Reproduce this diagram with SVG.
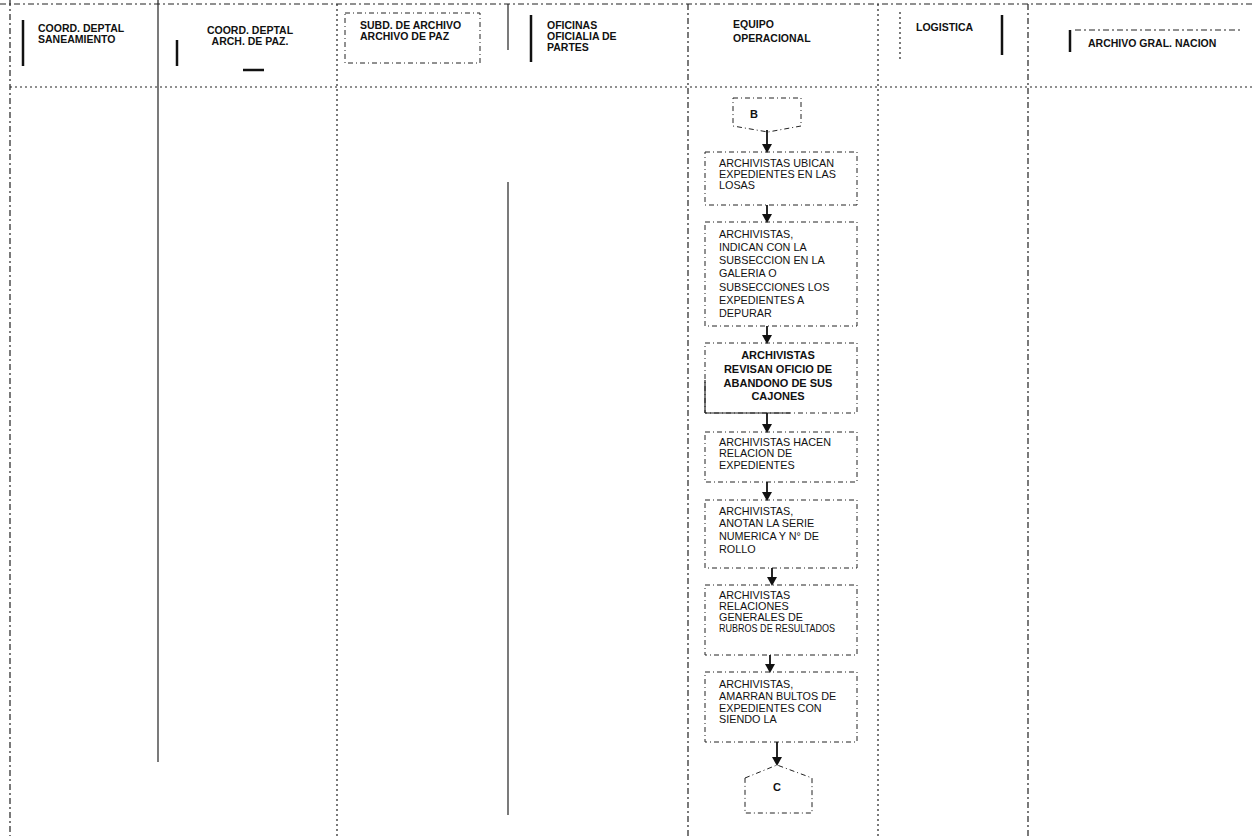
<svg xmlns="http://www.w3.org/2000/svg" width="1253" height="836" viewBox="0 0 1253 836">
<style>
text{font-family:"Liberation Sans",Arial,sans-serif;font-size:10.8px;fill:#111}
.h{font-size:10.5px;font-weight:bold}
.b{font-weight:bold;font-size:11px}
.lane{fill:none;stroke:#222;stroke-width:1.2}
.dot{stroke-dasharray:2 3}
.dash{stroke-dasharray:6 3 2 3}
.box{fill:none;stroke:#222;stroke-width:1;stroke-dasharray:5 3 1 3}
.bar{stroke:#111;stroke-width:2.5}
.arr{stroke:#111;stroke-width:1.8;fill:none;marker-end:url(#ah)}
</style>
<defs>
<marker id="ah" markerWidth="10" markerHeight="10" refX="7" refY="5" orient="auto" markerUnits="userSpaceOnUse">
<path d="M0,0 L9,5 L0,10 Z" fill="#111"/>
</marker>
</defs>
<rect width="1253" height="836" fill="#fff"/>
<g id="lanes">
<line class="lane dash" x1="0" y1="4" x2="1253" y2="4"/>
<line class="lane dash" x1="10" y1="0" x2="10" y2="836"/>
<line class="lane" x1="158" y1="0" x2="158" y2="762" stroke-width="2"/>
<line class="lane dot" x1="337" y1="4" x2="337" y2="836"/>
<line class="lane" x1="508" y1="182" x2="508" y2="815" stroke-width="2"/>
<line class="lane" x1="508" y1="4" x2="508" y2="50"/>
<line class="lane dash" x1="688" y1="4" x2="688" y2="836"/>
<line class="lane dot" x1="878" y1="4" x2="878" y2="836"/>
<line class="lane dash" x1="1028" y1="4" x2="1028" y2="836"/>
<line class="lane dot" x1="10" y1="87" x2="1253" y2="87"/>
</g>
<g id="h1">
<line class="bar" x1="23" y1="20" x2="23" y2="66"/>
<text class="h" x="38" y="32">COORD. DEPTAL</text>
<text class="h" x="38" y="43">SANEAMIENTO</text>
</g>
<g id="h2">
<line class="bar" x1="177" y1="40" x2="177" y2="66"/>
<line class="bar" x1="243" y1="70" x2="264" y2="70" stroke-width="2"/>
<text class="h" x="250" y="34" text-anchor="middle">COORD. DEPTAL</text>
<text class="h" x="250" y="45" text-anchor="middle">ARCH. DE PAZ.</text>
</g>
<g id="h3">
<rect class="box dot" x="345" y="13" width="135" height="50"/>
<text class="h" x="360" y="29">SUBD. DE ARCHIVO</text>
<text class="h" x="360" y="40">ARCHIVO DE PAZ</text>
</g>
<g id="h4">
<line class="bar" x1="531" y1="15" x2="531" y2="62"/>
<text class="h" x="547" y="29">OFICINAS</text>
<text class="h" x="547" y="40">OFICIALIA DE</text>
<text class="h" x="547" y="51">PARTES</text>
</g>
<g id="h5">
<text class="h" x="733" y="28">EQUIPO</text>
<text class="h" x="733" y="42">OPERACIONAL</text>
</g>
<g id="h6">
<line class="lane dot" x1="900" y1="12" x2="900" y2="62"/>
<line class="bar" x1="1002" y1="15" x2="1002" y2="55"/>
<text class="h" x="916" y="31">LOGISTICA</text>
</g>
<g id="h7">
<line class="lane dash" x1="1075" y1="30" x2="1240" y2="30"/>
<line class="bar" x1="1070" y1="30" x2="1070" y2="52"/>
<text class="h" x="1088" y="47">ARCHIVO GRAL. NACION</text>
</g>
<g id="B">
<path class="box" d="M733,98 H801 V126 L768,132 L733,126 Z"/>
<text class="b" x="750" y="118">B</text>
</g>
<g id="n1">
<rect class="box" x="705" y="152" width="152" height="53"/>
<text x="719" y="167">ARCHIVISTAS UBICAN</text>
<text x="719" y="178">EXPEDIENTES EN LAS</text>
<text x="719" y="189">LOSAS</text>
</g>
<g id="n2">
<rect class="box" x="705" y="222" width="152" height="104"/>
<text x="719" y="238">ARCHIVISTAS,</text>
<text x="719" y="251">INDICAN CON LA</text>
<text x="719" y="264">SUBSECCION EN LA</text>
<text x="719" y="277">GALERIA O</text>
<text x="719" y="291">SUBSECCIONES LOS</text>
<text x="719" y="304">EXPEDIENTES A</text>
<text x="719" y="317">DEPURAR</text>
</g>
<g id="n3">
<rect class="box" x="705" y="343" width="152" height="70"/>
<line class="lane" x1="705" y1="380" x2="705" y2="413"/>
<line class="lane" x1="705" y1="413" x2="790" y2="413"/>
<text class="b" x="778" y="359" text-anchor="middle">ARCHIVISTAS</text>
<text class="b" x="778" y="373" text-anchor="middle">REVISAN OFICIO DE</text>
<text class="b" x="778" y="387" text-anchor="middle">ABANDONO DE SUS</text>
<text class="b" x="778" y="400" text-anchor="middle">CAJONES</text>
</g>
<g id="n4">
<rect class="box" x="705" y="432" width="152" height="50"/>
<text x="719" y="446">ARCHIVISTAS HACEN</text>
<text x="719" y="457">RELACION DE</text>
<text x="719" y="469">EXPEDIENTES</text>
</g>
<g id="n5">
<rect class="box" x="705" y="500" width="152" height="68"/>
<text x="719" y="515">ARCHIVISTAS,</text>
<text x="719" y="527">ANOTAN LA SERIE</text>
<text x="719" y="540">NUMERICA Y N° DE</text>
<text x="719" y="553">ROLLO</text>
</g>
<g id="n6">
<rect class="box" x="705" y="585" width="152" height="70"/>
<text x="719" y="599">ARCHIVISTAS</text>
<text x="719" y="610">RELACIONES</text>
<text x="719" y="621">GENERALES DE</text>
<text x="719" y="632" textLength="116" lengthAdjust="spacingAndGlyphs">RUBROS DE RESULTADOS</text>
</g>
<g id="n7">
<rect class="box" x="705" y="672" width="152" height="70"/>
<text x="719" y="688">ARCHIVISTAS,</text>
<text x="719" y="700">AMARRAN BULTOS DE</text>
<text x="719" y="712">EXPEDIENTES CON</text>
<text x="719" y="723">SIENDO LA</text>
</g>
<g id="C">
<path class="box" d="M745,778 L777,765 L812,778 V813 H745 Z"/>
<text class="b" x="773" y="791">C</text>
</g>
<g id="connectors">
<line class="arr" x1="767" y1="130" x2="767" y2="151"/>
<line class="arr" x1="767" y1="205" x2="767" y2="221"/>
<line class="arr" x1="767" y1="326" x2="767" y2="342"/>
<line class="arr" x1="767" y1="413" x2="767" y2="431"/>
<line class="arr" x1="767" y1="482" x2="767" y2="499"/>
<line class="arr" x1="772" y1="568" x2="772" y2="584"/>
<line class="arr" x1="770" y1="655" x2="770" y2="671"/>
<line class="arr" x1="777" y1="742" x2="777" y2="764"/>
</g>
</svg>
